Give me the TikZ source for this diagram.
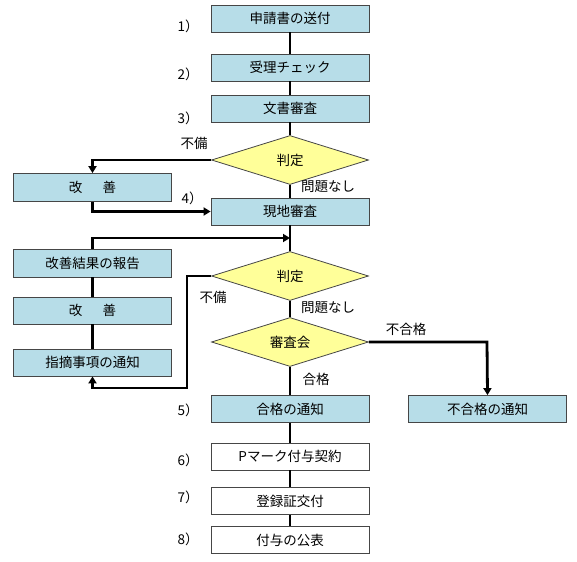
\documentclass[tikz,border=0pt]{standalone}
\usepackage{fontspec}
\setmainfont{Noto Sans CJK JP}
\usetikzlibrary{shapes.geometric,arrows.meta}
\definecolor{boxblue}{RGB}{183,221,232}
\definecolor{dyellow}{RGB}{255,255,153}
\definecolor{edge}{RGB}{70,70,70}
\tikzset{
  stepbox/.style={draw=edge, line width=0.8pt, fill=boxblue, minimum width=158pt, minimum height=27pt, inner sep=0pt, font=\fontsize{13.5}{16}\selectfont},
  whitebox/.style={stepbox, fill=white},
  decide/.style={diamond, aspect=3, draw=edge, line width=0.8pt, fill=dyellow, minimum width=157pt, minimum height=49pt, inner sep=0pt, font=\fontsize{13.5}{16}\selectfont},
  conn/.style={line width=2.8pt, black},
  arr/.style={conn, -{Triangle[length=7pt,width=8pt]}},
  lbl/.style={font=\fontsize{13.5}{16}\selectfont, inner sep=0pt}
}
\begin{document}
\begin{tikzpicture}[x=1pt,y=-1pt]
\useasboundingbox (0,0) rectangle (577,561);
% main column
\node[stepbox] (b1) at (290,18.5) {申請書の送付};
\node[stepbox] (b2) at (290,67.5) {受理チェック};
\node[stepbox] (b3) at (290,108.5) {文書審査};
\node[decide] (d1) at (290,160) {判定};
\node[stepbox] (b4) at (290,211.5) {現地審査};
\node[decide] (d2) at (290,276) {判定};
\node[decide] (d3) at (290,342) {審査会};
\node[stepbox] (b5) at (290,409) {合格の通知};
\node[stepbox] (bf) at (487.5,409) {不合格の通知};
\node[whitebox] (b6) at (290,456.5) {Pマーク付与契約};
\node[whitebox] (b7) at (290,501) {登録証交付};
\node[whitebox] (b8) at (290,540) {付与の公表};
% left column
\node[stepbox, minimum height=28pt] (k1) at (92.5,187.5) {改\hspace{1.5em}善};
\node[stepbox, minimum height=28pt] (rep) at (92.5,263) {改善結果の報告};
\node[stepbox] (k2) at (92.5,310.5) {改\hspace{1.5em}善};
\node[stepbox] (shi) at (92.5,362.5) {指摘事項の通知};
% helper coordinates
\coordinate (j1) at (290,238);
\coordinate (c1) at (92.5,160);
\coordinate (c2) at (187,276);
\coordinate (c3) at (187,388);
\coordinate (c4) at (92.5,388);
\coordinate (c5) at (487,342);
% connectors
\draw[conn] (b1.south) -- (b2.north);
\draw[conn] (b2.south) -- (b3.north);
\draw[conn] (b3.south) -- (d1.north);
\draw[arr] (d1.west) -- (c1) -- (k1.north);
\draw[arr] (k1.south) |- (b4.west);
\draw[conn] (d1.south) -- (b4.north);
\draw[conn] (b4.south) -- (d2.north);
\draw[arr] (rep.north) |- (j1);
\draw[arr] (d2.west) -- (c2) -- (c3) -- (c4) -- (shi.south);
\draw[conn] (shi.north) -- (k2.south);
\draw[conn] (k2.north) -- (rep.south);
\draw[conn] (d2.south) -- (d3.north);
\draw[arr] (d3.east) -- (c5) -- (bf.north);
\draw[conn] (d3.south) -- (b5.north);
\draw[conn] (b5.south) -- (b6.north);
\draw[conn] (b6.south) -- (b7.north);
\draw[conn] (b7.south) -- (b8.north);
% labels
\node[lbl] (l1) at (188,26) {1）};
\node[lbl] (l2) at (188,74) {2）};
\node[lbl] (l3) at (188,118) {3）};
\node[lbl] (l4) at (192,198) {4）};
\node[lbl] (l5) at (188,410) {5）};
\node[lbl] (l6) at (188,460) {6）};
\node[lbl] (l7) at (188,497) {7）};
\node[lbl] (l8) at (188,539) {8）};
\node[lbl] (n1) at (194,143) {不備};
\node[lbl] (n2) at (213,297) {不備};
\node[lbl] (ok1) at (328,187) {問題なし};
\node[lbl] (ok2) at (328,308) {問題なし};
\node[lbl] (ng) at (406,329) {不合格};
\node[lbl] (pass) at (316,379) {合格};
\end{tikzpicture}
\end{document}
